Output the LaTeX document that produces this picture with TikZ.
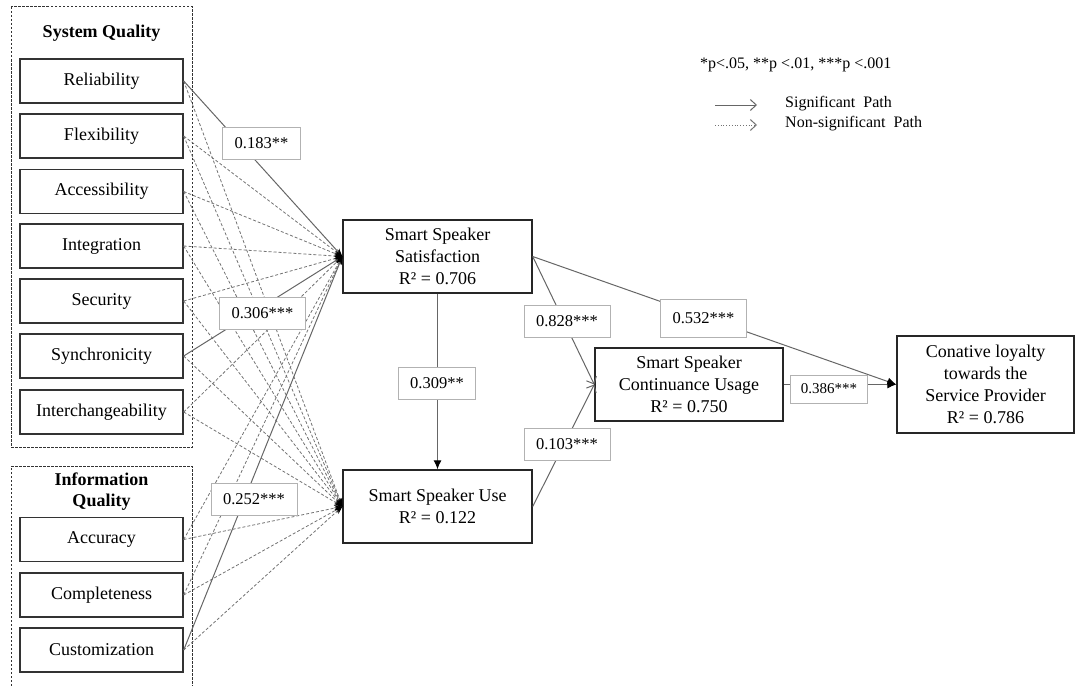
\documentclass[tikz,border=0pt]{standalone}
\usepackage{fontspec}
\setmainfont{Liberation Serif}
\usetikzlibrary{arrows}
\usetikzlibrary{arrows.meta}
\usetikzlibrary{shapes}

\tikzset{
  item/.style={draw=black!80, line width=1.4pt, minimum width=163pt, minimum height=44pt,
    inner sep=0pt, font=\fontsize{18}{22}\selectfont},
  construct/.style={draw=black!85, line width=1.4pt, align=center, inner sep=0pt,
    font=\fontsize{18}{22}\selectfont},
  coef/.style={draw=black!30, fill=white, line width=0.8pt, inner xsep=12pt, inner ysep=0pt,
    minimum height=32pt, font=\fontsize{16.5}{20}\selectfont},
  sig/.style={draw=black!60, line width=1pt},
  nonsig/.style={draw=black!55, line width=0.8pt, dash pattern=on 3pt off 2pt},
  group/.style={draw=black!80, line width=1pt, dash pattern=on 2.5pt off 1.5pt},
  grouptitle/.style={align=center, inner sep=0pt, font=\fontsize{18}{21}\selectfont\bfseries},
  legend/.style={anchor=west, inner sep=0pt, font=\fontsize{16}{20}\selectfont},
  tip/.style={-{Stealth[length=8pt,width=6pt,black]}},
  fulltip/.style={-{Latex[length=9pt,width=8pt,black]}},
  opentip/.style={-{Straight Barb[length=6pt,width=11pt,line width=1pt]}},
}

\begin{document}
\begin{tikzpicture}[x=1pt, y=-1pt]
\useasboundingbox (0,0) rectangle (1075,685);

% Gruppen (gestrichelte Rahmen):
\draw[group] (11,7) rectangle (192,447);
\draw[group] (11,690) -- (11,466) -- (192,466) -- (192,690);
\node[grouptitle] (sysq) at (101.5,33) {System Quality};
\node[grouptitle] (infq) at (101.5,492) {Information\\Quality};

% Indikatoren:
\foreach \name/\txt/\y in {rel/Reliability/81, fle/Flexibility/136, acs/Accessibility/191.5,
    int/Integration/246, sec/Security/301, syn/Synchronicity/356,
    itc/Interchangeability/412, acc/Accuracy/539.5, com/Completeness/595,
    cus/Customization/650}
  \node[item] (\name) at (101.5,\y) {\txt};

% Konstrukte:
\node[construct, minimum width=189pt, minimum height=73pt] (sat) at (437.5,256.5)
  {Smart Speaker\\Satisfaction\\R² = 0.706};
\node[construct, minimum width=189pt, minimum height=73pt] (use) at (437.5,506.5)
  {Smart Speaker Use\\R² = 0.122};
\node[construct, minimum width=188pt, minimum height=73pt] (cont) at (689,384.5)
  {Smart Speaker\\Continuance Usage\\R² = 0.750};
\node[construct, minimum width=177pt, minimum height=97pt] (loy) at (985.5,384.5)
  {Conative loyalty\\towards the\\Service Provider\\R² = 0.786};

% Pfade von den Indikatoren:
\foreach \n in {rel,fle,acs,int,sec,syn,itc,acc,com,cus}
  \draw[nonsig,tip] (\n.east) -- (use.west);
\foreach \n in {fle,acs,int,sec,itc,acc,com}
  \draw[nonsig,tip] (\n.east) -- (sat.west);
\foreach \n in {rel,syn,cus}
  \draw[sig,tip] (\n.east) -- (sat.west);

% Strukturmodell:
\draw[sig,fulltip] (sat.south) -- (use.north);
\draw[sig,opentip] (sat.east) -- (cont.west);
\draw[sig,opentip] (use.east) -- (cont.west);
\draw[sig,fulltip] (sat.east) -- (loy.west);
\draw[sig,fulltip] (cont.east) -- (loy.west);

% Koeffizienten:
\node[coef] (c183) at (261.5,143) {0.183**};
\node[coef] (c306) at (262.5,313.5) {0.306***};
\node[coef] (c252) at (254,499) {0.252***};
\node[coef] (c309) at (437,383) {0.309**};
\node[coef] (c828) at (567,321.5) {0.828***};
\node[coef] (c103) at (567,444.5) {0.103***};
\node[coef, minimum height=38pt] (c532) at (703.5,318.5) {0.532***};
\node[coef, minimum height=28pt, inner xsep=10pt, font=\fontsize{15}{18}\selectfont] (c386) at (829,389) {0.386***};

% Legende:
\node[legend] (plev) at (700,65) {*p<.05, **p <.01, ***p <.001};
\coordinate (l1a) at (715,105);
\coordinate (l1b) at (757,105);
\coordinate (l2a) at (715,125);
\coordinate (l2b) at (757,125);
\draw[sig,opentip] (l1a) -- (l1b);
\draw[draw=black!55, line width=0.8pt, dotted, opentip] (l2a) -- (l2b);
\node[legend] (lsig) at (785,104) {Significant\enspace Path};
\node[legend] (lnon) at (785,124) {Non-significant\enspace Path};
\end{tikzpicture}
\end{document}
